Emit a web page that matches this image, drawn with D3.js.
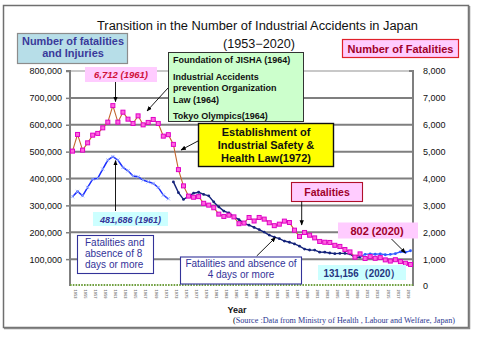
<!DOCTYPE html>
<html><head><meta charset="utf-8">
<script src="https://cdn.jsdelivr.net/npm/d3@7"></script>
<style>body{margin:0;background:#fff}svg{display:block}</style>
</head><body><svg id="c" width="480" height="360"></svg>
<script>
const years = d3.range(1953, 2021);
const fatalities = [5019,5639,5056,5327,5613,5677,5885,6097,6712,6097,6468,6208,6048,6331,5996,6086,6197,6048,5576,5631,5269,4330,3725,
  3345,3302,3326,3077,3009,2912,2674,2588,2635,2572,2318,2342,2549,2419,2550,2489,2354,2245,2301,2414,
  2363,2078,1844,1992,1889,1790,1658,1628,1620,1514,1472,1357,1268,1075,1195,1024,1093,1030,1057,972,928,978,909,845,802];
const years8 = d3.range(1953, 1973);
const injuries8 = [332000,352000,335700,366900,397800,400400,434900,468400,481686,468400,441300,428600,408900,406300,394100,387700,381800,366900,338300,324500];
const years4 = d3.range(1973, 2021);
const injuries4 = [387342,347407,322322,333311,345293,348826,340731,335706,312844,294319,278623,271884,257240,246891,232953,226318,217964,210108,200633,189589,
  181900,176047,167316,162862,156726,148248,137316,133948,133598,125918,125750,122804,120354,121378,121356,119291,105718,107759,117958,119576,
  118157,119535,116311,117910,120460,127329,125611,131156];
const leftTicks = [100000,200000,300000,400000,500000,600000,700000,800000];
const rightTicks = [0,1000,2000,3000,4000,5000,6000,7000,8000];
const yearLabels = years.filter((d,i)=>i%2===0);

const svg = d3.select('#c');
const FONT = "'Liberation Sans', Arial, sans-serif";
svg.append('rect').attr('x',3.5).attr('y',5.5).attr('width',465).attr('height',322)
  .attr('fill','#fff').attr('stroke','#6f6f6f').attr('stroke-width',1.5);
svg.append('path').attr('d','M4,328.5H469.5V6').attr('fill','none').attr('stroke','#8a8a8a').attr('stroke-width',1.5);

const defs = svg.append('defs');
defs.append('marker').attr('id','ah').attr('viewBox','0 0 10 10').attr('refX',9).attr('refY',5)
  .attr('markerWidth',6).attr('markerHeight',6).attr('orient','auto-start-reverse')
  .append('path').attr('d','M0,1 L10,5 L0,9 Z').attr('fill','#000');

const x = d3.scalePoint().domain(years).range([72.5, 410.5]);
const y = d3.scaleLinear().domain([0,800000]).range([286,71]);
const y2 = d3.scaleLinear().domain([0,8000]).range([286,71]);
const PL=70, PR=413;

// gridlines
svg.append('g').selectAll('line').data(leftTicks).join('line')
  .attr('x1',PL).attr('x2',PR).attr('y1',d=>y(d)).attr('y2',d=>y(d))
  .attr('stroke',d=>d===800000?'#c8c8c8':'#7f7f7f').attr('stroke-width',2);

// left axis
const ga = svg.append('g').attr('transform',`translate(${PL},0)`)
  .call(d3.axisLeft(y).tickValues(leftTicks).tickFormat(d3.format(',')).tickSize(4).tickPadding(4));
ga.select('.domain').attr('stroke','#7f7f7f').attr('stroke-width',2).attr('d',`M-4,${y(800000)}H0V${y(0)}`);
ga.selectAll('.tick line').attr('stroke','#7f7f7f').attr('stroke-width',1.5);
ga.selectAll('text').attr('font-family',FONT).attr('font-size',9).attr('fill','#111');

// right axis
const gb = svg.append('g').attr('transform',`translate(${PR},0)`)
  .call(d3.axisRight(y2).tickValues(rightTicks).tickFormat(d3.format(',')).tickSize(0).tickPadding(10));
gb.select('.domain').attr('stroke','#7f7f7f').attr('stroke-width',2).attr('d',`M-4,${y2(8000)}H0V${y2(0)}`);
gb.selectAll('text').attr('font-family',FONT).attr('font-size',9).attr('fill','#111');

// bottom green dotted baseline
svg.append('line').attr('x1',PL).attr('x2',PR).attr('y1',285).attr('y2',285)
  .attr('stroke','#70a040').attr('stroke-width',2).attr('stroke-dasharray','1.6,1.2');

// x tick labels (tiny)
svg.append('g').selectAll('text').data(yearLabels).join('text')
  .attr('transform',d=>`translate(${x(d)+1.3},289.5) rotate(90)`)
  .attr('font-family',FONT).attr('font-size',4).attr('font-weight','bold').attr('fill','#7a7a7a').text(d=>d);

// series
const line = d3.line();
const d8 = years8.map((yr,i)=>[x(yr), y(injuries8[i])]);
const d4 = years4.map((yr,i)=>[x(yr), y(injuries4[i])]);
const d4a = d4.filter((p,i)=>years4[i]<=2010);
const d4b = d4.filter((p,i)=>years4[i]>=2010);
const dF = years.map((yr,i)=>[x(yr), y2(fatalities[i])]);

svg.append('path').attr('d',line(d8)).attr('fill','none').attr('stroke','#1a2cff').attr('stroke-width',1.5);
svg.append('g').selectAll('path').data(d8).join('path')
  .attr('d',d=>`M${d[0]-1.6},${d[1]-1.6}L${d[0]+1.6},${d[1]+1.6}M${d[0]-1.6},${d[1]+1.6}L${d[0]+1.6},${d[1]-1.6}`)
  .attr('stroke','#8fa8ff').attr('stroke-width',0.9);

svg.append('path').attr('d',line(d4a)).attr('fill','none').attr('stroke','#14237a').attr('stroke-width',1.4);
svg.append('g').selectAll('circle').data(d4a).join('circle')
  .attr('cx',d=>d[0]).attr('cy',d=>d[1]).attr('r',1.4).attr('fill','#14237a');
svg.append('path').attr('d',line(d4b)).attr('fill','none').attr('stroke','#2f5bff').attr('stroke-width',1.3);
svg.append('g').selectAll('circle').data(d4b.slice(1)).join('circle')
  .attr('cx',d=>d[0]).attr('cy',d=>d[1]).attr('r',1.4).attr('fill','#2f5bff');

svg.append('path').attr('d',line(dF)).attr('fill','none').attr('stroke','#c4652d').attr('stroke-width',1.1);
svg.append('g').selectAll('rect').data(dF).join('rect')
  .attr('x',d=>d[0]-2).attr('y',d=>d[1]-2).attr('width',4).attr('height',4)
  .attr('fill','#ff66dd').attr('stroke','#e000c8').attr('stroke-width',1);

// helpers
function box(x0,y0,w,h,fill,stroke,sw){
  svg.append('rect').attr('x',x0).attr('y',y0).attr('width',w).attr('height',h)
    .attr('fill',fill).attr('stroke',stroke||'none').attr('stroke-width',sw||1);
}
function txt(x0,y0,s,opt){
  const t = svg.append('text').attr('x',x0).attr('y',y0).text(s)
    .attr('font-family',opt.family||FONT).attr('font-size',opt.size||9)
    .attr('font-weight',opt.weight||'normal').attr('font-style',opt.style||'normal')
    .attr('fill',opt.fill||'#000').attr('text-anchor',opt.anchor||'start');
  if(opt.len) t.attr('textLength',opt.len).attr('lengthAdjust','spacingAndGlyphs');
  return t;
}
function arrow(x1,y1,x2,y2){
  svg.append('line').attr('x1',x1).attr('y1',y1).attr('x2',x2).attr('y2',y2)
    .attr('stroke','#000').attr('stroke-width',0.9).attr('marker-end','url(#ah)');
}

// title
txt(257.5,30,'Transition in the Number of Industrial Accidents in Japan',{size:12,anchor:'middle',len:321,fill:'#111'});
txt(259,48,'(1953−2020)',{size:12,anchor:'middle',len:72,fill:'#111'});

// axis title boxes
box(17.5,33.5,110,30,'#b7dee8','#8c8c8c',1.2);
txt(73,45,'Number of fatalities',{size:11,weight:'bold',anchor:'middle',fill:'#3a3a9a',len:102});
txt(73,57,'and Injuries',{size:11,weight:'bold',anchor:'middle',fill:'#3a3a9a'});
box(342.5,39.5,116,18,'#ffccff','#e0202a',1.2);
txt(400.5,52.5,'Number of Fatalities',{size:11,weight:'bold',anchor:'middle',fill:'#a0002a',len:106});

// peak fatalities
box(85,67,72,15,'#ffccff');
txt(121,78,'6,712 (1961)',{size:9.5,weight:'bold',style:'italic',anchor:'middle',fill:'#d0103a'});
arrow(115.5,82,115.5,y2(6712)-4);

// peak injuries
box(93,212,75,14,'#ccffff');
txt(130.5,222.5,'481,686 (1961)',{size:9,weight:'bold',style:'italic',anchor:'middle',fill:'#333399'});
arrow(115.5,211,115.5,y(481686)+4);

// green box
arrow(168,88,147,111);
box(168.5,52.5,135,69,'#ccffcc','#333',1);
txt(173,63,'Foundation of JISHA (1964)',{size:9,weight:'bold',fill:'#111'});
txt(173,79.5,'Industrial Accidents',{size:9,weight:'bold',fill:'#111'});
txt(173,91,'prevention Organization',{size:9,weight:'bold',fill:'#111'});
txt(173,102.5,'Law (1964)',{size:9,weight:'bold',fill:'#111'});
txt(173,119,'Tokyo Olympics(1964)',{size:9,weight:'bold',fill:'#111'});

// yellow box
arrow(198,141,181,150);
box(198.5,123.5,135,43,'#ffff00','#111',1.4);
txt(266,135.5,'Establishment of',{size:11,weight:'bold',anchor:'middle',fill:'#111'});
txt(266,149,'Industrial Safety &',{size:11,weight:'bold',anchor:'middle',fill:'#111'});
txt(266,162,'Health Law(1972)',{size:11,weight:'bold',anchor:'middle',fill:'#111'});

// Fatalities label
box(291.5,182.5,71,19,'#ffccff','#b0102a',1.1);
txt(327,196,'Fatalities',{size:10.5,weight:'bold',anchor:'middle',fill:'#a0002a'});
arrow(301.7,201.5,301.7,225);

// 802
box(338,222.5,80,16,'#ffccff');
txt(377,234.5,'802 (2020)',{size:11,weight:'bold',anchor:'middle',fill:'#a0002a'});
arrow(391.5,239,405.5,253);

// 131,156
box(318,265,88,15,'#ccffff');
txt(362,276.5,'131,156（2020）',{size:10.5,weight:'bold',anchor:'middle',fill:'#24357f',len:77});

// 8-day box
box(77.5,235.5,76,38,'#fff','#333399',1.1);
txt(85,246,'Fatalities and',{size:10,fill:'#333399'});
txt(85,257,'absence of  8',{size:10,fill:'#333399'});
txt(85,268,'days or more',{size:10,fill:'#333399'});

// 4-day box
arrow(256.7,256,275.5,237.5);
box(180.5,257,121,27,'#fff','#333399',1.1);
txt(241,267,'Fatalities and absence of',{size:10,anchor:'middle',fill:'#333399'});
txt(241,278,'4 days or more',{size:10,anchor:'middle',fill:'#333399'});

// axis title and source
txt(237,313,'Year',{size:9,weight:'bold',anchor:'middle',fill:'#111'});
const src = svg.append('text').attr('x',233).attr('y',322.5)
  .attr('font-family',"'Liberation Serif', 'Times New Roman', serif").attr('font-size',7.5)
  .attr('textLength',222).attr('lengthAdjust','spacingAndGlyphs');
src.append('tspan').attr('fill','#000').text('(');
src.append('tspan').attr('fill','#2b3590').text('Source :Data from Ministry of Health , Labour and Welfare, Japan)');
</script></body></html>
